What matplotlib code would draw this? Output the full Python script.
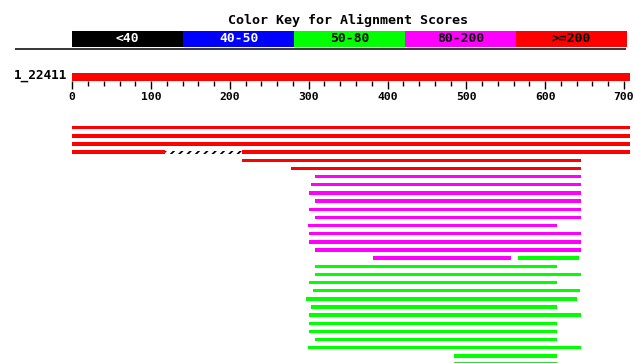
import matplotlib
matplotlib.use("Agg")
import matplotlib.pyplot as plt
import numpy as np

# 쿼리 정보
QUERY_NAME = "1_22411"
QUERY_LEN = 708

# 색상 키
KEY_LABELS = ["<40", "40-50", "50-80", "80-200", ">=200"]
KEY_COLORS = ["#000000", "#0000ff", "#00ff00", "#ff00ff", "#ff0000"]
KEY_TEXT_COLORS = ["white", "white", "black", "black", "black"]

# 정렬(히트) 구간: 행 번호, 시작, 끝, 점수 구간(색 키 인덱스, -1 = 빈 구간)
hit_rows   = [0, 1, 2, 3, 3, 3, 4, 5,
              6, 7, 8, 9, 10, 11, 12, 13, 14, 15, 16, 16,
              17, 18, 19, 20, 21, 22, 23, 24, 25, 26, 27, 28, 29]
hit_starts = [0, 0, 0, 0, 118, 215, 215, 278,
              308, 303, 300, 308, 300, 308, 299, 300, 300, 308, 382, 566,
              308, 308, 300, 305, 297, 303, 300, 300, 300, 308, 299, 484, 484]
hit_ends   = [708, 708, 708, 118, 215, 708, 646, 646,
              646, 646, 646, 646, 646, 646, 615, 646, 646, 646, 557, 643,
              615, 646, 615, 644, 641, 615, 646, 615, 615, 615, 646, 615, 615]
hit_class  = [4, 4, 4, 4, -1, 4, 4, 4,
              3, 3, 3, 3, 3, 3, 3, 3, 3, 3, 3, 2,
              2, 2, 2, 2, 2, 2, 2, 2, 2, 2, 2, 2, 2]

# 픽셀 배치
W, H, DPI = 635, 363, 100
X0_PX, PX_PER_UNIT = 72.3, 0.788
ROW0_PX, ROW_STEP = 127.7, 8.15


def px2x(px):
    return (px - X0_PX) / PX_PER_UNIT


plt.rcParams["hatch.linewidth"] = 1.3
fig = plt.figure(figsize=(W / DPI, H / DPI), dpi=DPI)
ax = fig.add_axes([0, 0, 1, 1])
ax.set_xlim(px2x(0), px2x(W))
ax.set_ylim(H, 0)
ax.axis("off")

mono = dict(family="DejaVu Sans Mono", fontweight="bold")

# 색상 키
ax.text(px2x(348), 20, "Color Key for Alignment Scores", ha="center", va="center",
        fontsize=9.6, color="black", **mono)
key_w = px2x(626.7) / len(KEY_LABELS)
for i, (lab, c, tc) in enumerate(zip(KEY_LABELS, KEY_COLORS, KEY_TEXT_COLORS)):
    ax.barh(38.7, key_w, left=i * key_w, height=16, color=c, lw=0)
    ax.text(i * key_w + key_w / 2, 39, lab, ha="center", va="center",
            fontsize=9.4, color=tc, **mono)
ax.hlines(49.3, px2x(15), px2x(626), color="black", lw=1.1)

# 쿼리 눈금자
ax.barh(77, QUERY_LEN, left=0, height=7.4, color="#ff0000", lw=0)
ax.text(px2x(67), 75.5, QUERY_NAME, ha="right", va="center", fontsize=9.2,
        color="black", **mono)
for t in range(0, QUERY_LEN + 1, 20):
    major = t % 100 == 0
    ax.vlines(t, 80.5, 89 if major else 85.7, color="black", lw=1.0)
    if major:
        ax.text(t, 97.5, str(t), ha="center", va="center", fontsize=8.2,
                color="black", **mono)

# 히트
for r, s, e, k in zip(hit_rows, hit_starts, hit_ends, hit_class):
    y = ROW0_PX + r * ROW_STEP
    if k < 0:
        ax.barh(y, e - s, left=s, height=3.2, color="white", hatch="////",
                edgecolor="black", lw=0)
    else:
        ax.barh(y, e - s, left=s, height=3.4, color=KEY_COLORS[k], lw=0)

fig.savefig("out.png", dpi=DPI)
